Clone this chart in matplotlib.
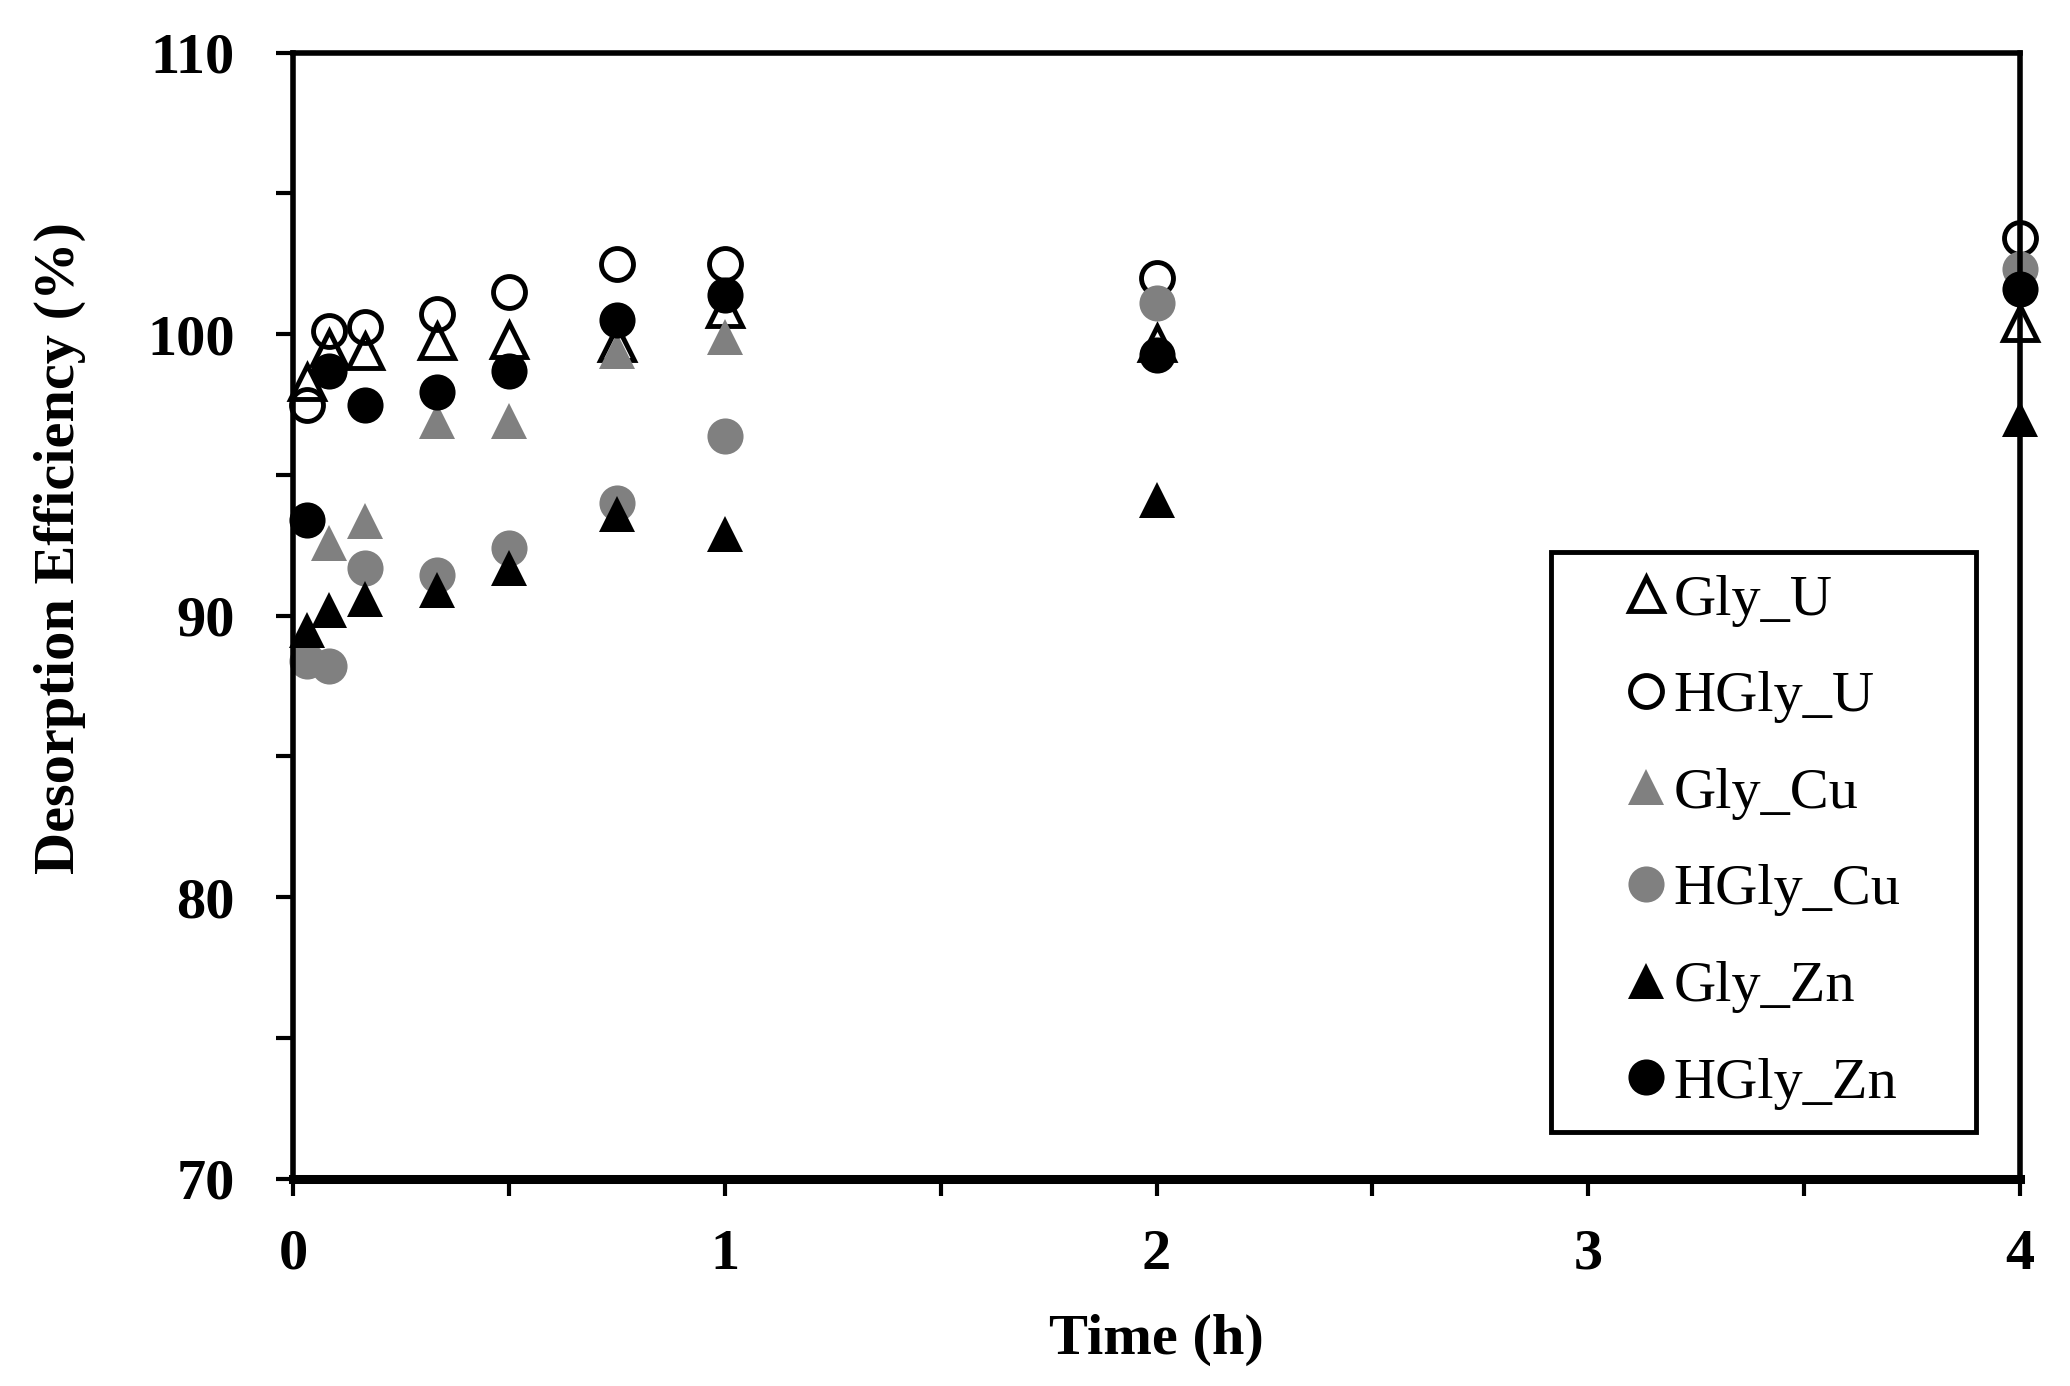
import numpy as np
import matplotlib
matplotlib.use('Agg')
import matplotlib.pyplot as plt

# time points (h) and desorption efficiency (%)
time_h = [0.033, 0.083, 0.167, 0.333, 0.5, 0.75, 1.0, 2.0, 4.0]

gly_u = [98.3, 99.5, 99.4, 99.75, 99.8, 99.7, 100.9, 99.7, 100.4]
hgly_u = [97.5, 100.1, 100.25, 100.7, 101.5, 102.5, 102.5, 102.0, 103.4]
gly_cu = [np.nan, 92.6, 93.35, 96.9, 96.9, 99.4, 99.9, np.nan, np.nan]
hgly_cu = [88.4, 88.2, 91.7, 91.45, 92.4, 94.0, 96.4, 101.1, 102.3]
gly_zn = [89.5, 90.2, 90.6, 90.9, 91.7, 93.6, 92.9, 94.1, 97.0]
hgly_zn = [93.4, 98.7, 97.5, 97.95, 98.7, 100.5, 101.4, 99.25, 101.6]

labels = ['Gly_U', 'HGly_U', 'Gly_Cu', 'HGly_Cu', 'Gly_Zn', 'HGly_Zn']

plt.rcParams['font.family'] = ['Liberation Serif', 'DejaVu Serif']

fig = plt.figure(figsize=(20.7, 13.86), dpi=100)
ax = fig.add_axes([0.1416, 0.1495, 0.8342, 0.8125])

gray = '#808080'
ms = 26
series = [
    (gly_u, dict(marker='^', mfc='white', mec='black', mew=3.5, ms=ms - 2)),
    (hgly_u, dict(marker='o', mfc='none', mec='black', mew=3.5, ms=ms - 3)),
    (gly_cu, dict(marker='^', mfc=gray, mec=gray, mew=0, ms=ms)),
    (hgly_cu, dict(marker='o', mfc=gray, mec=gray, mew=0, ms=ms)),
    (gly_zn, dict(marker='^', mfc='black', mec='black', mew=0, ms=ms)),
    (hgly_zn, dict(marker='o', mfc='black', mec='black', mew=0, ms=ms)),
]
for (vals, style), lab in zip(series, labels):
    ax.plot(time_h, vals, linestyle='none', label=lab, clip_on=False, zorder=3, **style)

ax.set_xlim(0, 4)
ax.set_ylim(70, 110)
ax.set_xticks([0, 1, 2, 3, 4])
ax.set_xticks([0.5, 1.5, 2.5, 3.5], minor=True)
ax.set_yticks([70, 80, 90, 100, 110])
ax.set_yticks([75, 85, 95, 105], minor=True)

ax.tick_params(which='both', direction='out', length=12, width=3, colors='black')
ax.tick_params(axis='x', which='major', labelsize=42, pad=24)
ax.tick_params(axis='y', which='major', labelsize=42, pad=30)
for t in ax.get_xticklabels() + ax.get_yticklabels():
    t.set_fontweight('bold')

for side in ['left', 'top', 'right']:
    ax.spines[side].set_linewidth(4)
ax.spines['bottom'].set_linewidth(6.5)
for sp in ax.spines.values():
    sp.set_zorder(5)

ax.set_xlabel('Time (h)', fontsize=42, fontweight='bold')
ax.set_ylabel('Desorption Efficiency (%)', fontsize=42, fontweight='bold')
ax.xaxis.set_label_coords(0.5, -0.12)
ax.yaxis.set_label_coords(-0.12, 0.56)

leg = ax.legend(loc='upper left', bbox_to_anchor=(0.7286, 0.048, 0.2462, 0.5089),
                mode='expand', borderaxespad=0,
                fontsize=42, frameon=True, fancybox=False, framealpha=1,
                edgecolor='black', borderpad=0.38, handlelength=2.48,
                handletextpad=-0.77, labelspacing=0.75, numpoints=1)
leg.get_frame().set_linewidth(3.5)

plt.savefig('out.png', dpi=100)
